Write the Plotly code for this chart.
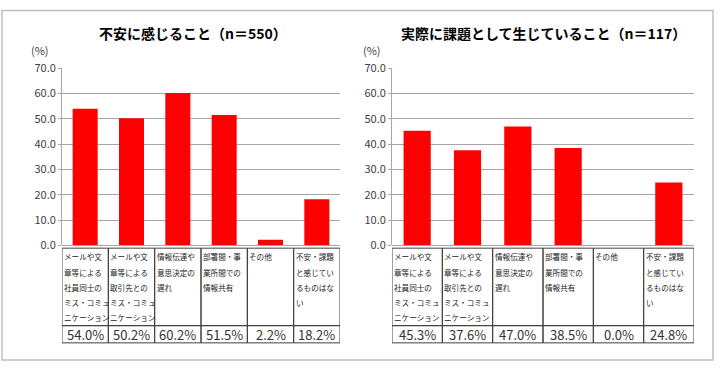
import plotly.graph_objects as go

W, H = 720, 369

categories = ["c1", "c2", "c3", "c4", "c5", "c6"]
label_lines = [
    ["メールや文", "章等による", "社員同士の", "ミス・コミュ", "ニケーション"],
    ["メールや文", "章等による", "取引先との", "ミス・コミュ", "ニケーション"],
    ["情報伝達や", "意思決定の", "遅れ"],
    ["部署間・事", "業所間での", "情報共有"],
    ["その他"],
    ["不安・課題", "と感じてい", "るものはな", "い"],
]
values_left = [54.0, 50.2, 60.2, 51.5, 2.2, 18.2]
values_right = [45.3, 37.6, 47.0, 38.5, 0.0, 24.8]
title_left = "不安に感じること（n＝550）"
title_right = "実際に課題として生じていること（n＝117）"
y_ticks = [0, 10, 20, 30, 40, 50, 60, 70]

FONT = "Noto Sans CJK JP"
BAR_COLOR = "#ff0000"
GRID = "#a6a6a6"

def py(px):
    return 1 - px / H

Y0, Y70 = 247, 62
TABLE_TOP, TABLE_MID, TABLE_BOT = 250, 331, 349

panels = [
    dict(vals=values_left, title=title_left, dom=(62 / W, 340 / W), xa="x", ya="y", title_x=193 / W, pct_x=40 / W),
    dict(vals=values_right, title=title_right, dom=(392 / W, 694 / W), xa="x2", ya="y2", title_x=543 / W, pct_x=372 / W),
]

fig = go.Figure()
shapes = []
annotations = []

for i, p in enumerate(panels):
    fig.add_trace(go.Bar(
        x=list(range(len(categories))), y=p["vals"], marker=dict(color=BAR_COLOR, line=dict(width=0)),
        width=0.54, xaxis=p["xa"], yaxis=p["ya"], showlegend=False, hoverinfo="skip"))
    axsuf = "" if i == 0 else "2"
    fig.update_layout(**{
        f"xaxis{axsuf}": dict(domain=list(p["dom"]), range=[-0.5, len(categories) - 0.5],
                              showticklabels=False, showgrid=False, zeroline=False,
                              showline=False, anchor=p["ya"], fixedrange=True),
        f"yaxis{axsuf}": dict(domain=[py(Y0), py(Y70)], range=[0, 70], tickvals=y_ticks,
                              ticktext=[f"{v:.1f}" for v in y_ticks], anchor=p["xa"],
                              showgrid=True, gridcolor=GRID, gridwidth=1, zeroline=True,
                              zerolinecolor=GRID, zerolinewidth=1,
                              showline=True, linecolor=GRID, linewidth=1,
                              ticks="outside", ticklen=3, tickcolor=GRID,
                              tickfont=dict(family=FONT, size=11, color="#404040"), fixedrange=True),
    })
    annotations.append(dict(text=f"<b>{p['title']}</b>", x=p["title_x"], y=py(25), xref="paper", yref="paper",
                            showarrow=False, font=dict(family=FONT, size=14, color="#000000"),
                            xanchor="center", yanchor="middle"))
    annotations.append(dict(text="(%)", x=p["pct_x"], y=py(43), xref="paper", yref="paper",
                            showarrow=False, font=dict(family=FONT, size=11, color="#404040"),
                            xanchor="center", yanchor="middle"))
    n = len(categories)
    for r_top, r_bot in [(TABLE_TOP, TABLE_MID), (TABLE_MID, TABLE_BOT)]:
        for c in range(n):
            shapes.append(dict(type="rect", xref=p["xa"], yref="paper",
                               x0=c - 0.5, x1=c + 0.5, y0=py(r_bot), y1=py(r_top),
                               line=dict(color="#404040", width=1), fillcolor="rgba(0,0,0,0)"))
    for c in range(n):
        for li, line in enumerate(label_lines[c]):
            annotations.append(dict(text=line, x=c - 0.48, y=py(TABLE_TOP + 9 + li * 16), xref=p["xa"], yref="paper",
                                    showarrow=False, xanchor="left", yanchor="middle", borderpad=0,
                                    font=dict(family=FONT, size=7.6, color="#222222")))
        annotations.append(dict(text=f"{p['vals'][c]:.1f}%", x=c, y=py((TABLE_MID + TABLE_BOT) / 2),
                                xref=p["xa"], yref="paper", showarrow=False,
                                xanchor="center", yanchor="middle",
                                font=dict(family=FONT, size=13, color="#333333")))

shapes.append(dict(type="rect", xref="paper", yref="paper", x0=2 / W, x1=713 / W, y0=py(367), y1=py(1.5),
                   line=dict(color="#bfbfbf", width=1.5), fillcolor="rgba(0,0,0,0)", layer="below"))

fig.update_layout(width=W, height=H, margin=dict(l=0, r=0, t=0, b=0),
                  paper_bgcolor="white", plot_bgcolor="white",
                  shapes=shapes, annotations=annotations)

post = """
var st = document.createElement('style');
st.textContent = 'html,body{margin:0 !important;padding:0;overflow:hidden;height:369px;}';
document.head.appendChild(st);
var gd = document.getElementById('{plot_id}');
gd.style.position = 'fixed'; gd.style.top = '0px'; gd.style.left = '0px';
window.scrollTo(0, 0);
"""
fig.write_html("out.html", post_script=post, config={"displayModeBar": False})
